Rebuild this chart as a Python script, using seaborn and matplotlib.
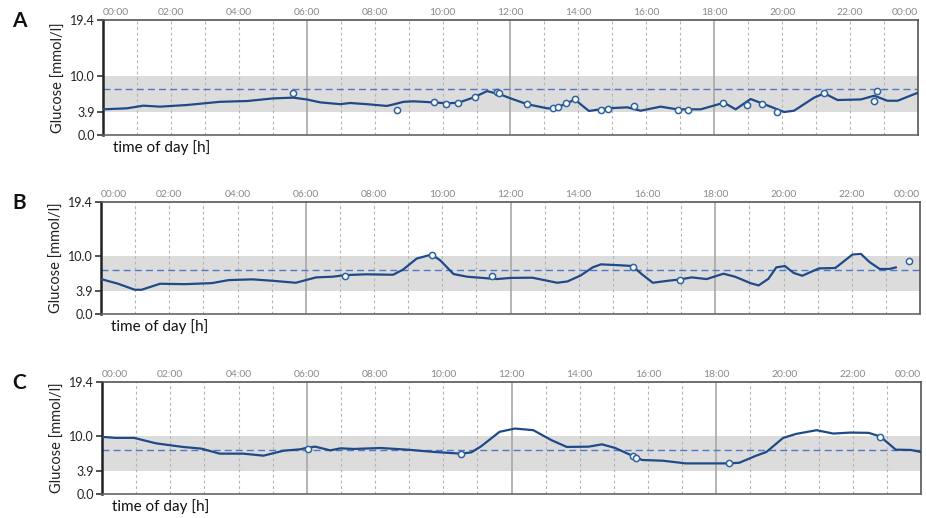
import matplotlib
matplotlib.use("Agg")
import matplotlib.pyplot as plt
import matplotlib.transforms as mtransforms
import seaborn as sns
import pandas as pd

# ---------------- data ----------------
a_hours = [0, 0.7, 1.19, 1.68, 2.47, 3.45, 4.24, 5.02, 5.6, 6.0, 6.4, 6.99, 7.28, 7.77, 8.36, 8.56,
           8.85, 9.15, 9.74, 10.13, 10.47, 10.92, 11.31, 11.7, 12.0, 12.49, 13.08, 13.28, 13.67,
           13.89, 14.31, 14.85, 15.44, 15.83, 16.42, 16.91, 17.6, 18.29, 18.63, 19.07, 19.47,
           20.06, 20.35, 20.94, 21.24, 21.63, 22.32, 22.71, 23.1, 23.4, 24.0]
a_gluc = [4.33, 4.5, 4.95, 4.78, 5.06, 5.6, 5.73, 6.18, 6.3, 6.0, 5.5, 5.2, 5.4, 5.2, 4.9, 5.17,
          5.6, 5.68, 5.5, 5.34, 5.45, 6.35, 7.4, 6.85, 6.18, 5.2, 4.5, 4.5, 5.34,
          6.0, 4.05, 4.5, 4.67, 4.1, 4.78, 4.33, 4.33, 5.45, 4.33, 6.07, 5.2,
          3.88, 4.1, 6.3, 7.03, 5.9, 6.0, 6.63, 5.78, 5.78, 7.14]
a_mark_h = [5.59, 8.65, 9.76, 10.11, 10.45, 10.96, 11.6, 11.67, 12.49, 13.25, 13.41, 13.64, 13.89,
            14.67, 14.87, 15.64, 16.94, 17.24, 18.27, 18.96, 19.42, 19.86, 21.24, 22.71, 22.8]
a_mark_v = [7.03, 4.2, 5.56, 5.28, 5.45, 6.4, 7.25, 7.08, 5.2, 4.55, 4.72, 5.34, 6.0,
            4.22, 4.44, 4.84, 4.22, 4.27, 5.45, 5.06, 5.28, 3.93, 7.03, 5.78, 7.42]

b_hours = [0, 0.5, 0.99, 1.19, 1.73, 2.47, 3.25, 3.74, 4.43, 5.02, 5.71, 6.3, 6.79, 7.18, 7.77,
           8.56, 8.85, 9.25, 9.69, 9.94, 10.33, 10.73, 11.6, 12.0, 12.64, 13.37, 13.67, 14.06,
           14.41, 14.65, 15.24, 15.58, 15.83, 16.17, 16.62, 16.98, 17.31, 17.75, 18.24, 18.58,
           19.03, 19.27, 19.56, 19.79, 20.04, 20.3, 20.55, 21.04, 21.52, 22.02, 22.27, 22.52,
           22.82, 23.1, 23.3]
b_gluc = [6.05, 5.24, 4.2, 4.2, 5.24, 5.17, 5.35, 5.87, 6.0, 5.76, 5.41, 6.34, 6.46, 6.75, 6.87,
          6.8, 7.68, 9.6, 10.3, 9.3, 6.92, 6.46, 6.05, 6.25, 6.29, 5.41, 5.64, 6.69,
          8.08, 8.6, 8.43, 8.31, 6.98, 5.41, 5.76, 6.0, 6.34, 6.05, 6.98, 6.46,
          5.35, 4.95, 6.11, 8.08, 8.31, 7.1, 6.63, 7.9, 7.97, 10.3, 10.4, 9.0,
          7.8, 7.8, 8.08]
b_mark_h = [7.16, 9.69, 11.46, 15.58, 16.98, 23.68]
b_mark_v = [6.52, 10.3, 6.52, 8.14, 5.87, 9.25]

c_hours = [0, 0.4, 0.94, 1.58, 2.37, 2.91, 3.45, 4.14, 4.73, 5.32, 5.81, 6.05, 6.25, 6.69, 6.99,
           7.38, 8.17, 8.95, 9.74, 10.52, 10.82, 11.11, 11.65, 12.1, 12.64, 13.18, 13.62, 14.26,
           14.65, 15.04, 15.34, 15.58, 15.83, 16.42, 17.11, 18.39, 18.68, 19.17, 19.47, 19.96,
           20.35, 20.94, 21.43, 21.93, 22.47, 22.81, 23.26, 23.7, 24.0]
c_gluc = [9.9, 9.72, 9.72, 8.78, 8.15, 7.86, 6.99, 6.99, 6.64, 7.5, 7.74, 8.08, 8.2, 7.56, 7.91,
          7.8, 7.97, 7.68, 7.28, 6.99, 7.21, 8.26, 10.77, 11.34, 11.05, 9.3, 8.15, 8.2,
          8.6, 7.97, 7.16, 6.52, 5.89, 5.77, 5.3, 5.3, 5.42, 6.64, 7.28, 9.72,
          10.42, 11.05, 10.47, 10.64, 10.59, 9.95, 7.68, 7.63, 7.28]
c_mark_h = [6.05, 10.52, 15.55, 15.66, 18.38, 22.81]
c_mark_v = [7.86, 6.99, 6.52, 6.17, 5.42, 9.95]

panel_labels = ["A", "B", "C"]
target_low, target_high = 3.9, 10.0
target_line = 7.7
y_ticks = [0.0, 3.9, 10.0, 19.4]
y_tick_labels = ["0.0", "3.9", "10.0", "19.4"]
x_ticks = list(range(0, 25, 2))
x_tick_labels = ["%02d:00" % (h % 24) for h in x_ticks]

# ---------------- style ----------------
sns.set_theme(style="white")
plt.rcParams["font.family"] = ["Lato", "DejaVu Sans"]

W, H = 926, 518
fig = plt.figure(figsize=(W / 100, H / 100), dpi=100)

# axes boxes in pixels: (left, top, right, bottom)
boxes = [(103, 20, 918, 135), (101, 202, 920, 314), (102, 382, 921, 494)]

line_col = "#1f4a87"
mark_col = "#2f63a0"
dash_col = "#4f78c8"

panels = [
    (a_hours, a_gluc, a_mark_h, a_mark_v),
    (b_hours, b_gluc, b_mark_h, b_mark_v),
    (c_hours, c_gluc, c_mark_h, c_mark_v),
]

for i, ((l, t, r, b), (hx, gy, mh, mv)) in enumerate(zip(boxes, panels)):
    ax = fig.add_axes([l / W, 1 - b / H, (r - l) / W, (b - t) / H])
    ax.set_xlim(0, 24)
    ax.set_ylim(0, 19.4)
    ax.axhspan(target_low, target_high, color="#dcdcdc", lw=0, zorder=0)
    for h in range(1, 24):
        if h % 6 == 0:
            ax.axvline(h, color="#a8a8a8", lw=1.2, zorder=1)
        else:
            ax.axvline(h, color="#b4b4b4", lw=0.8, ls=(0, (2.5, 2.5)), zorder=1)
    ax.axhline(target_line, color=dash_col, lw=1.0, ls=(0, (5, 3)), zorder=2)

    df = pd.DataFrame({"hour": hx, "glucose": gy})
    sns.lineplot(data=df, x="hour", y="glucose", ax=ax, color=line_col, lw=1.6,
                 zorder=3, sort=False)
    dm = pd.DataFrame({"hour": mh, "glucose": mv})
    sns.scatterplot(data=dm, x="hour", y="glucose", ax=ax, marker="o", s=20,
                    facecolor="white", edgecolor=mark_col, linewidth=1.1, zorder=4)

    ax.set_xlabel("")
    ax.set_ylabel("Glucose [mmol/l]", fontsize=10.5, color="#222222", labelpad=3)
    ax.set_yticks(y_ticks)
    ax.set_yticklabels(y_tick_labels)
    ax.tick_params(axis="y", which="major", left=True, length=4, width=1.2,
                   color="#333333", labelsize=9, labelcolor="#222222", pad=2)

    ax.xaxis.tick_top()
    ax.set_xticks(x_ticks)
    ax.set_xticklabels(x_tick_labels)
    ax.tick_params(axis="x", which="major", top=False, bottom=False, length=0,
                   labelsize=7.5, labelcolor="#8a8a8a", pad=2)
    tl = ax.get_xticklabels()
    tl[0].set_ha("left")
    tl[-1].set_ha("right")

    for side, sp in ax.spines.items():
        sp.set_visible(True)
        sp.set_color("#555555")
        sp.set_linewidth(1.2)
    ax.spines["left"].set_color("#222222")
    ax.spines["left"].set_linewidth(1.8)
    ax.spines["bottom"].set_color("#666666")

    off = mtransforms.offset_copy(ax.transAxes, fig=fig, x=10, y=-13, units="dots")
    ax.text(0.0, 0.0, "time of day [h]", transform=off, ha="left",
            va="center", fontsize=11, color="#111111")

    fig.text(12 / W, 1 - (t + 1) / H, panel_labels[i], fontsize=15, fontweight="bold",
             ha="left", va="center", color="#111111")

fig.savefig("out.png", dpi=100)
